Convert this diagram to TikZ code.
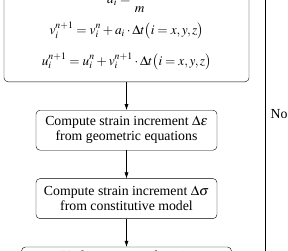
\documentclass[tikz,border=0pt]{standalone}
\usepackage{amsmath}
\usepackage{mathptmx}
\usepackage[no-math]{fontspec}
\setmainfont{Liberation Serif}
\usetikzlibrary{arrows.meta,positioning}

\begin{document}
\begin{tikzpicture}[>={Latex[length=6pt,width=4pt]},x=1pt,y=-1pt,node distance=28pt,
stepbox/.style={draw,rounded corners=4pt,align=center,minimum width=181pt,minimum height=40pt,inner sep=2pt,font=\fontsize{13.8}{15}\selectfont}]
\useasboundingbox (0,0) rectangle (288,250);
\node[stepbox,anchor=south,minimum width=245pt,inner ysep=12pt,font=\fontsize{13.3}{15}\selectfont] (motion) at (126.5,82)
{$\begin{gathered}a_i=\frac{F_i}{m}\\[6pt]
v_i^{n+1}=v_i^n+a_i\cdot\Delta t\bigl(i=x,y,z\bigr)\\[10pt]
u_i^{n+1}=u_i^n+v_i^{n+1}\cdot\Delta t\bigl(i=x,y,z\bigr)\end{gathered}$};
\node[stepbox,below=of motion] (strain) {Compute strain increment $\Delta\varepsilon$\\from geometric equations};
\node[stepbox,below=of strain] (stress) {Compute strain increment $\Delta\sigma$\\from constitutive model};
\node[stepbox,below=of stress,minimum width=210pt,minimum height=0pt,inner ysep=4pt] (update) {Update stress and strain};
\draw[->] (motion)--(strain);
\draw[->] (strain)--(stress);
\draw[->] (stress)--(update);
% loop back
\coordinate (loop bottom) at (265,262);
\coordinate (loop top) at (265,-12);
\draw (loop bottom)--(loop top);
\node[right,font=\fontsize{13.8}{15}\selectfont] (no) at (267,114) {No};
\end{tikzpicture}
\end{document}
